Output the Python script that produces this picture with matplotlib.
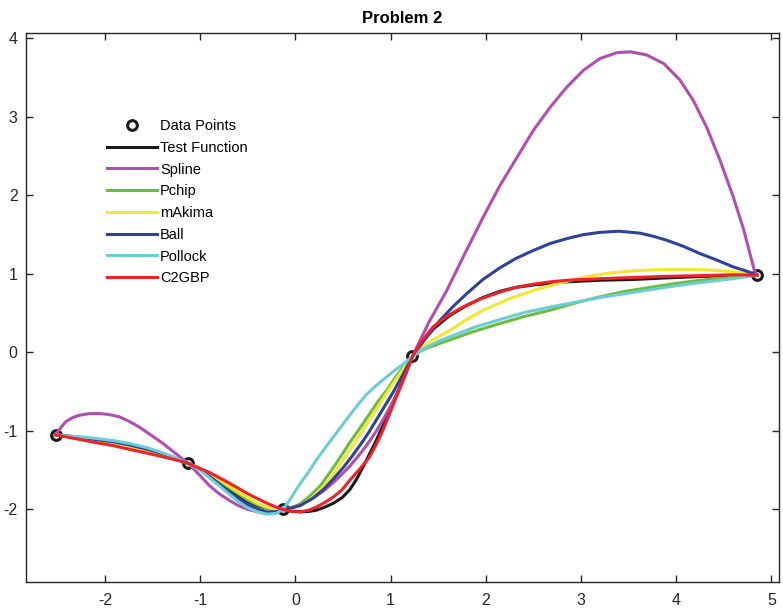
import matplotlib
matplotlib.use("Agg")
import matplotlib.pyplot as plt

plt.rcParams['font.family'] = ['Liberation Sans', 'DejaVu Sans']
plt.rcParams['axes.unicode_minus'] = False

# Data points
pts_x = [-2.52, -1.13, -0.13, 1.23, 4.85]
pts_y = [-1.05, -1.41, -2.0, -0.05, 0.985]

# Test function (black)
test_x = [-2.52, -2.3, -2.09, -1.9, -1.74, -1.55, -1.39, -1.25, -1.13,
          -1.0, -0.9, -0.8, -0.7, -0.6, -0.5, -0.4, -0.3, -0.2, -0.13,
          -0.04, 0.05, 0.14, 0.22, 0.31, 0.40, 0.49, 0.57, 0.64, 0.71, 0.78, 0.85,
          0.92, 0.99, 1.06, 1.13, 1.18, 1.23,
          1.33, 1.45, 1.62, 1.80, 1.97, 2.15, 2.32, 2.50, 2.85, 3.20, 3.55, 3.90,
          4.30, 4.60, 4.85]
test_y = [-1.05, -1.08, -1.12, -1.16, -1.20, -1.25, -1.30, -1.355, -1.41,
          -1.49, -1.57, -1.655, -1.74, -1.82, -1.90, -1.95, -1.98, -2.0, -2.0,
          -2.02, -2.03, -2.025, -2.01, -1.97, -1.92, -1.85, -1.75, -1.62, -1.46, -1.29, -1.12,
          -0.93, -0.735, -0.54, -0.35, -0.20, -0.05,
          0.13, 0.30, 0.47, 0.60, 0.70, 0.78, 0.83, 0.86, 0.90, 0.92, 0.93, 0.95,
          0.97, 0.98, 0.985]

# Spline (magenta)
spline_x = [-2.52, -2.46, -2.41, -2.34, -2.27, -2.17, -2.07, -1.96, -1.85, -1.75, -1.64,
            -1.52, -1.39, -1.26, -1.13,
            -1.0, -0.9, -0.8, -0.7, -0.6, -0.5, -0.4, -0.3, -0.2, -0.13,
            -0.04, 0.05, 0.18, 0.30, 0.44, 0.57, 0.66, 0.75, 0.84, 0.92, 1.00, 1.08, 1.16, 1.23,
            1.40, 1.59, 1.78, 1.975, 2.15, 2.33, 2.50, 2.68, 2.85, 3.03, 3.20, 3.38, 3.52,
            3.69, 3.87, 4.04, 4.18, 4.32, 4.46, 4.60, 4.71, 4.82, 4.85]
spline_y = [-1.05, -0.95, -0.88, -0.83, -0.80, -0.78, -0.777, -0.79, -0.82, -0.875, -0.95,
            -1.05, -1.16, -1.285, -1.41,
            -1.57, -1.70, -1.80, -1.88, -1.95, -2.0, -2.03, -2.04, -2.03, -2.0,
            -1.975, -1.94, -1.86, -1.76, -1.61, -1.45, -1.32, -1.18, -1.02, -0.86, -0.68, -0.50, -0.27, -0.05,
            0.38, 0.79, 1.26, 1.73, 2.13, 2.49, 2.83, 3.13, 3.38, 3.60, 3.745, 3.82, 3.83,
            3.79, 3.68, 3.47, 3.21, 2.87, 2.45, 1.98, 1.56, 1.05, 0.985]

# Pchip (green)
pchip_x = [-2.52, -2.3, -2.09, -1.9, -1.74, -1.55, -1.39, -1.25, -1.13,
           -1.0, -0.9, -0.8, -0.7, -0.6, -0.5, -0.4, -0.3, -0.2, -0.13,
           -0.04, 0.05, 0.15, 0.26, 0.35, 0.43, 0.50, 0.57, 0.68, 0.78, 0.87, 0.96,
           1.05, 1.13, 1.23,
           1.35, 1.48, 1.62, 1.88, 2.15, 2.41, 2.68, 2.94, 3.20, 3.47, 3.73, 4.0,
           4.25, 4.60, 4.85]
pchip_y = [-1.05, -1.085, -1.125, -1.165, -1.205, -1.255, -1.305, -1.357, -1.41,
           -1.485, -1.56, -1.64, -1.72, -1.80, -1.88, -1.94, -1.98, -2.0, -2.0,
           -1.98, -1.93, -1.83, -1.70, -1.55, -1.41, -1.28, -1.15, -0.96, -0.78, -0.62, -0.48,
           -0.32, -0.19, -0.05,
           0.04, 0.10, 0.16, 0.27, 0.37, 0.46, 0.54, 0.63, 0.71, 0.78, 0.83, 0.88,
           0.92, 0.96, 0.985]

# mAkima (yellow)
makima_x = [-2.52, -2.3, -2.09, -1.9, -1.74, -1.55, -1.39, -1.25, -1.13,
            -1.0, -0.9, -0.8, -0.7, -0.6, -0.5, -0.4, -0.3, -0.2, -0.13,
            -0.04, 0.05, 0.18, 0.30, 0.39, 0.47, 0.55, 0.64, 0.73, 0.82, 0.91, 0.99,
            1.11, 1.23,
            1.40, 1.62, 1.80, 1.975, 2.24, 2.50, 2.76, 3.03, 3.29, 3.55, 3.81, 4.08,
            4.34, 4.60, 4.85]
makima_y = [-1.05, -1.085, -1.13, -1.17, -1.21, -1.26, -1.31, -1.36, -1.41,
            -1.48, -1.55, -1.62, -1.70, -1.78, -1.85, -1.92, -1.97, -2.0, -2.0,
            -1.985, -1.95, -1.85, -1.70, -1.57, -1.43, -1.28, -1.12, -0.95, -0.78, -0.61, -0.46,
            -0.25, -0.05,
            0.13, 0.28, 0.42, 0.54, 0.68, 0.79, 0.88, 0.96, 1.01, 1.04, 1.055, 1.06,
            1.05, 1.03, 0.985]

# Ball (blue)
ball_x = [-2.52, -2.3, -2.09, -1.9, -1.74, -1.55, -1.39, -1.25, -1.13,
          -1.0, -0.9, -0.8, -0.7, -0.6, -0.5, -0.4, -0.3, -0.2, -0.13,
          -0.04, 0.05, 0.18, 0.30, 0.40, 0.50, 0.59, 0.68, 0.77, 0.85, 0.94, 1.03,
          1.13, 1.23,
          1.38, 1.52, 1.66, 1.80, 1.97, 2.15, 2.32, 2.50, 2.68, 2.85, 3.02, 3.20,
          3.40, 3.62, 3.76, 3.90, 4.08, 4.25, 4.42, 4.60, 4.73, 4.85]
ball_y = [-1.05, -1.075, -1.11, -1.14, -1.18, -1.235, -1.29, -1.35, -1.41,
          -1.49, -1.58, -1.675, -1.77, -1.86, -1.94, -1.99, -2.03, -2.03, -2.0,
          -1.98, -1.95, -1.86, -1.74, -1.61, -1.47, -1.33, -1.18, -1.02, -0.86, -0.68, -0.50,
          -0.28, -0.05,
          0.20, 0.41, 0.59, 0.75, 0.93, 1.08, 1.20, 1.30, 1.39, 1.45, 1.50, 1.53,
          1.545, 1.52, 1.48, 1.43, 1.35, 1.26, 1.18, 1.09, 1.04, 0.985]

# Pollock (cyan)
pollock_x = [-2.52, -2.3, -2.09, -1.9, -1.74, -1.55, -1.39, -1.25, -1.13,
             -1.0, -0.9, -0.8, -0.7, -0.6, -0.5, -0.4, -0.3, -0.2, -0.13,
             -0.05, 0.05, 0.14, 0.22, 0.31, 0.40, 0.49, 0.57, 0.66, 0.75, 0.85, 0.95,
             1.04, 1.13, 1.23,
             1.35, 1.48, 1.62, 1.88, 2.15, 2.41, 2.68, 2.94, 3.20, 3.47, 3.73, 4.0,
             4.25, 4.60, 4.85]
pollock_y = [-1.05, -1.07, -1.095, -1.125, -1.16, -1.215, -1.28, -1.345, -1.41,
             -1.50, -1.60, -1.70, -1.80, -1.90, -1.98, -2.03, -2.06, -2.05, -2.0,
             -1.86, -1.67, -1.52, -1.37, -1.22, -1.075, -0.93, -0.80, -0.66, -0.53, -0.42, -0.32,
             -0.23, -0.15, -0.05,
             0.05, 0.13, 0.20, 0.32, 0.42, 0.51, 0.58, 0.64, 0.70, 0.75, 0.80, 0.85,
             0.89, 0.94, 0.985]

# C2GBP (red)
c2gbp_x = [-2.52, -2.3, -2.09, -1.9, -1.74, -1.55, -1.39, -1.25, -1.13,
           -1.0, -0.9, -0.8, -0.7, -0.6, -0.5, -0.4, -0.3, -0.2, -0.13,
           -0.04, 0.05, 0.14, 0.22, 0.31, 0.40, 0.49, 0.57, 0.68, 0.78, 0.85, 0.92,
           0.99, 1.06, 1.15, 1.23,
           1.33, 1.45, 1.59, 1.73, 1.94, 2.15, 2.32, 2.50, 2.68, 2.85, 3.20, 3.55,
           3.90, 4.30, 4.60, 4.85]
c2gbp_y = [-1.05, -1.10, -1.15, -1.19, -1.235, -1.285, -1.33, -1.37, -1.41,
           -1.48, -1.53, -1.595, -1.66, -1.73, -1.80, -1.86, -1.92, -1.97, -2.0,
           -2.025, -2.03, -2.01, -1.97, -1.91, -1.84, -1.75, -1.63, -1.48, -1.33, -1.17, -0.99,
           -0.78, -0.57, -0.30, -0.05,
           0.15, 0.33, 0.46, 0.56, 0.68, 0.77, 0.83, 0.87, 0.90, 0.92, 0.94, 0.955,
           0.97, 0.98, 0.99, 0.985]

fig = plt.figure(figsize=(7.83, 6.11), dpi=100)
ax = fig.add_axes([0.0332, 0.048, 0.9617, 0.898])

lw = 2.2
ax.plot(pts_x, pts_y, 'o', color='#1a1a1a', mfc='none', mew=2.2, ms=7, label='Data Points')
ax.plot(test_x, test_y, color='#1a1a1a', lw=lw, label='Test Function')
ax.plot(spline_x, spline_y, color='#b04fb0', lw=lw, label='Spline')
ax.plot(pchip_x, pchip_y, color='#6cbd3c', lw=lw, label='Pchip')
ax.plot(makima_x, makima_y, color='#f2e631', lw=lw, label='mAkima')
ax.plot(ball_x, ball_y, color='#2e419c', lw=lw, label='Ball')
ax.plot(pollock_x, pollock_y, color='#6dcdd6', lw=lw, label='Pollock')
ax.plot(c2gbp_x, c2gbp_y, color='#ef2229', lw=lw, label='C2GBP')

ax.set_xlim(-2.83, 5.08)
ax.set_ylim(-2.92, 4.07)
ax.set_xticks(range(-2, 6))
ax.set_yticks(range(-2, 5))
ax.tick_params(direction='in', length=5, width=1, colors='#262626', labelsize=11.5,
               top=True, right=True)
ax.tick_params(axis='x', pad=8)
ax.tick_params(axis='y', pad=6)
for s in ax.spines.values():
    s.set_color('#262626')
    s.set_linewidth(1)

ax.set_title('Problem 2', fontsize=12, fontweight='bold', pad=7)

ax.legend(loc='upper left', bbox_to_anchor=(0.1076, 0.843), frameon=False,
          fontsize=10.5, handlelength=3.4, handletextpad=0.25, labelspacing=0.53,
          borderpad=0, borderaxespad=0)

fig.savefig('out.png', dpi=100)
